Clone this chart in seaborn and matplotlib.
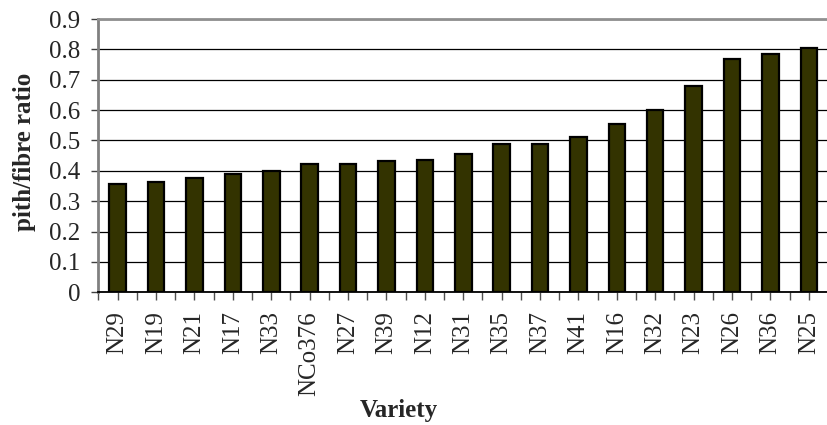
import numpy as np
import pandas as pd
import matplotlib
matplotlib.use("Agg")
import matplotlib.pyplot as plt
import seaborn as sns

varieties = ["N29", "N19", "N21", "N17", "N33", "NCo376", "N27", "N39", "N12", "N31",
             "N35", "N37", "N41", "N16", "N32", "N23", "N26", "N36", "N25"]
ratios = [0.355, 0.364, 0.375, 0.390, 0.400, 0.423, 0.424, 0.434, 0.436, 0.456,
          0.487, 0.488, 0.513, 0.554, 0.599, 0.679, 0.769, 0.785, 0.804]
yticks = [0, 0.1, 0.2, 0.3, 0.4, 0.5, 0.6, 0.7, 0.8, 0.9]
ytick_labels = ["0", "0.1", "0.2", "0.3", "0.4", "0.5", "0.6", "0.7", "0.8", "0.9"]

df = pd.DataFrame({"Variety": varieties, "ratio": ratios})

sns.set_style("white")
plt.rcParams["font.family"] = ["Liberation Serif", "DejaVu Serif"]

W, H = 828, 425
fig = plt.figure(figsize=(W / 100, H / 100), dpi=100)
left = 98.5 / W
bottom = (H - 292.3) / H
top = (H - 19) / H
ax = fig.add_axes([left, bottom, 1.0 - left, top - bottom])

sns.barplot(data=df, x="Variety", y="ratio", color="#333300", edgecolor="black",
            linewidth=1.6, width=0.43, saturation=1, ax=ax)

ax.set_ylim(0, 0.9)
ax.set_xlim(-0.5, 18.335)
ax.set_yticks(yticks)
ax.set_yticklabels(ytick_labels, fontsize=18)
ax.set_xticks(range(len(varieties)))
ax.set_xticklabels(varieties, rotation=90, fontsize=18)
ax.set_xticks(np.arange(-0.5, len(varieties), 1.0), minor=True)

ax.set_axisbelow(True)
ax.yaxis.grid(True, color="black", linewidth=0.9)
ax.xaxis.grid(False)

ax.spines["right"].set_visible(False)
ax.spines["top"].set_visible(True)
ax.spines["top"].set_color("#909090")
ax.spines["top"].set_linewidth(2)
ax.spines["left"].set_color("#808080")
ax.spines["left"].set_linewidth(2)
ax.spines["bottom"].set_color("black")
ax.spines["bottom"].set_linewidth(1.3)

ax.tick_params(axis="y", which="major", direction="out", length=5, width=1,
               color="#404040", pad=8, left=True)
ax.tick_params(axis="x", which="both", direction="out", length=5.5, width=1,
               color="#505050", bottom=True)
ax.tick_params(axis="x", which="major", pad=8)

ax.set_xlabel("")
ax.set_ylabel("")
fig.text(25 / W, (H - 152) / H, "pith/fibre ratio", rotation=90, fontsize=18,
         fontweight="bold", ha="center", va="center")
fig.text(399 / W, (H - 410) / H, "Variety", fontsize=18, fontweight="bold",
         ha="center", va="center")

fig.savefig("out.png", dpi=100)
